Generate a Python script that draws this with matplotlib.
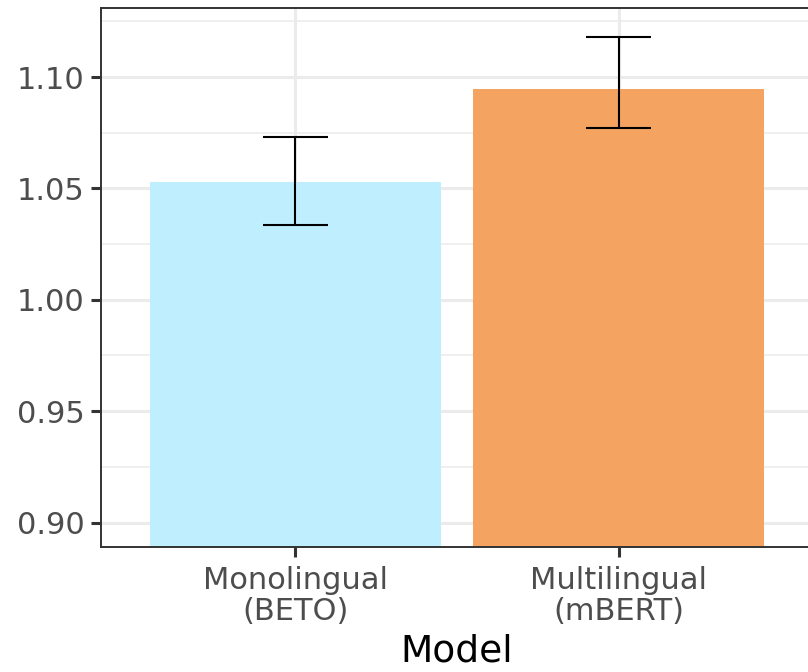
import matplotlib
matplotlib.use("Agg")
import matplotlib.pyplot as plt
import numpy as np

# ---------- data ----------
models = ["Monolingual\n(BETO)", "Multilingual\n(mBERT)"]
means = [1.0531, 1.0948]
err_low = [1.0337, 1.0771]
err_high = [1.0729, 1.1179]
bar_colors = ["#BFEFFF", "#F4A460"]

y_major = [0.90, 0.95, 1.00, 1.05, 1.10]
y_minor = [0.925, 0.975, 1.025, 1.075, 1.125]

GRID = "#EBEBEB"
DARK = "#333333"
TXT = "#4D4D4D"

plt.rcParams["font.family"] = "DejaVu Sans"

fig = plt.figure(figsize=(8.08, 6.72), dpi=100)
# panel runs slightly past the right edge like the reference crop
ax = fig.add_axes([101 / 808, 1 - 547 / 672, 712 / 808, 539 / 672])

x = np.arange(1, len(models) + 1)

ax.bar(x, means, width=0.9, color=bar_colors, zorder=2)
ax.vlines(x, err_low, err_high, color="black", linewidth=1.5, zorder=3)
ax.hlines(err_low, x - 0.1, x + 0.1, color="black", linewidth=1.5, zorder=3)
ax.hlines(err_high, x - 0.1, x + 0.1, color="black", linewidth=1.5, zorder=3)

# ggplot-ish limits with 5% expansion
lo, hi = 0.90, 1.12
pad = (hi - lo) * 0.05
ax.set_ylim(lo - pad, hi + pad)
ax.set_xlim(0.4, len(models) + 0.6)

# grid
for yv in y_minor:
    ax.axhline(yv, color=GRID, linewidth=1.1, zorder=0)
for yv in y_major:
    ax.axhline(yv, color=GRID, linewidth=2.2, zorder=0)
for xv in x:
    ax.axvline(xv, color=GRID, linewidth=2.2, zorder=0)

ax.set_yticks(y_major)
ax.set_yticklabels([f"{v:.2f}" for v in y_major])
ax.set_xticks(x)
ax.set_xticklabels(models, linespacing=1.05)

ax.tick_params(axis="both", length=7, width=2.2, color=DARK,
               labelsize=22, labelcolor=TXT, pad=5)
ax.tick_params(axis="x", pad=7)

for sp in ax.spines.values():
    sp.set_color(DARK)
    sp.set_linewidth(1.4)
    sp.set_zorder(4)

ax.set_xlabel("Model", fontsize=27, color="black", labelpad=6)

fig.savefig("out.png", dpi=100)
